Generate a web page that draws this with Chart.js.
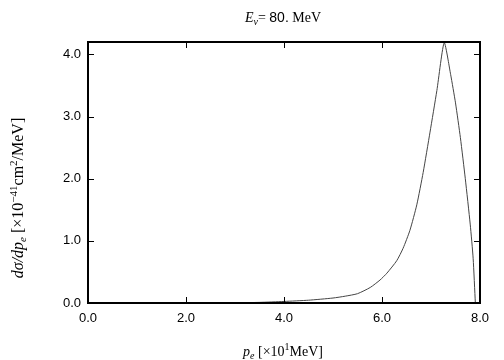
<!DOCTYPE html>
<html>
<head>
<meta charset="utf-8">
<script src="https://cdn.jsdelivr.net/npm/chart.js@4/dist/chart.umd.min.js"></script>
<style>
  html, body { margin: 0; padding: 0; background: #fff; }
  #wrap { width: 504px; height: 360px; }
</style>
</head>
<body>
<div id="wrap"><canvas id="spectrum"></canvas></div>
<script>
// electron momentum spectrum, E_nu = 80 MeV

const momentum = [0, 1.0, 2.0, 3.0, 3.5, 4.0, 4.5, 5.0, 5.25, 5.5, 5.76, 5.96, 6.1, 6.3, 6.43, 6.57,
                  6.71, 6.84, 6.98, 7.12, 7.27, 7.4, 7.5, 7.6, 7.7, 7.8, 7.86, 7.905];
const dsigma = [0, 0, 0, 0.004, 0.01, 0.025, 0.045, 0.08, 0.11, 0.15, 0.25, 0.37, 0.48, 0.68, 0.88, 1.17,
                1.58, 2.1, 2.75, 3.42, 4.19, 3.68, 3.22, 2.66, 2.0, 1.27, 0.72, 0];

const xTicks = [0, 2, 4, 6, 8];
const yTicks = [0, 1, 2, 3, 4];

const serif = '"Liberation Serif", "DejaVu Serif", serif';
const sans = '"Liberation Sans", Arial, sans-serif';

// draws a list of text pieces side by side, centred on (0,0) of the current transform
function richText(ctx, parts) {
    let total = 0;
    parts.forEach(p => { ctx.font = p.font; total += ctx.measureText(p.t).width; });
    let x = -total / 2;
    parts.forEach(p => {
        ctx.font = p.font;
        ctx.fillText(p.t, x, p.dy || 0);
        x += ctx.measureText(p.t).width;
    });
}

const framePlugin = {
    id: 'frame',
    afterDatasetsDraw(chart) {
        const { ctx, chartArea: a, scales } = chart;
        ctx.save();
        ctx.strokeStyle = '#000';
        ctx.lineWidth = 1;
        // inward ticks on all four sides
        ctx.beginPath();
        xTicks.forEach(v => {
            const px = Math.round(scales.x.getPixelForValue(v)) + 0.5;
            ctx.moveTo(px, a.bottom); ctx.lineTo(px, a.bottom - 6);
            ctx.moveTo(px, a.top); ctx.lineTo(px, a.top + 6);
        });
        yTicks.forEach(v => {
            const py = Math.round(scales.y.getPixelForValue(v)) + 0.5;
            ctx.moveTo(a.left, py); ctx.lineTo(a.left + 6, py);
            ctx.moveTo(a.right, py); ctx.lineTo(a.right - 6, py);
        });
        ctx.stroke();
        ctx.lineWidth = 2;
        ctx.strokeRect(a.left, a.top, a.right - a.left, a.bottom - a.top);

        ctx.fillStyle = '#000';
        ctx.textBaseline = 'alphabetic';
        // title
        ctx.save();
        ctx.translate(283, 22);
        richText(ctx, [
            { t: 'E', font: 'italic 14px ' + serif },
            { t: 'ν', font: 'italic 10px ' + serif, dy: 3 },
            { t: '= ', font: '14px ' + serif },
            { t: '80.', font: '14px ' + sans },
            { t: ' MeV', font: '14px ' + serif }
        ]);
        ctx.restore();
        // x title
        ctx.save();
        ctx.translate(283, 356);
        richText(ctx, [
            { t: 'p', font: 'italic 14px ' + serif },
            { t: 'e', font: 'italic 10px ' + serif, dy: 3 },
            { t: ' [×10', font: '14px ' + serif },
            { t: '1', font: '10px ' + serif, dy: -6 },
            { t: 'MeV]', font: '14px ' + serif }
        ]);
        ctx.restore();
        // y title
        ctx.save();
        ctx.translate(23, 198);
        ctx.rotate(-Math.PI / 2);
        richText(ctx, [
            { t: 'dσ/dp', font: 'italic 16px ' + serif },
            { t: 'e', font: 'italic 11px ' + serif, dy: 3 },
            { t: ' [×10', font: '16px ' + serif },
            { t: '−41', font: '11px ' + serif, dy: -6 },
            { t: 'cm', font: '16px ' + serif },
            { t: '2', font: '11px ' + serif, dy: -6 },
            { t: '/MeV]', font: '16px ' + serif }
        ]);
        ctx.restore();
        ctx.restore();
    }
};

const ctx = document.getElementById('spectrum').getContext('2d');

new Chart(ctx, {
    type: 'line',
    data: {
        datasets: [{
            data: momentum.map((m, i) => ({ x: m, y: dsigma[i] })),
            borderColor: '#444',
            borderWidth: 1,
            pointRadius: 0,
            fill: false,
            tension: 0.2
        }]
    },
    options: {
        responsive: true,
        maintainAspectRatio: false,
        animation: false,
        layout: { padding: { top: 42, right: 24, left: 0, bottom: 0 } },
        plugins: {
            legend: { display: false },
            tooltip: { enabled: false }
        },
        scales: {
            x: {
                type: 'linear',
                min: 0,
                max: 8,
                afterBuildTicks: s => { s.ticks = xTicks.map(v => ({ value: v })); },
                afterFit: s => { s.height = 57; },
                grid: { display: false, drawTicks: false },
                border: { display: false },
                ticks: {
                    padding: 8,
                    color: '#000',
                    font: { family: sans, size: 13 },
                    maxRotation: 0,
                    callback: v => v.toFixed(1)
                }
            },
            y: {
                min: 0,
                max: 4.2,
                afterBuildTicks: s => { s.ticks = yTicks.map(v => ({ value: v })); },
                afterFit: s => { s.width = 88; },
                grid: { display: false, drawTicks: false },
                border: { display: false },
                ticks: {
                    padding: 7,
                    color: '#000',
                    font: { family: sans, size: 13 },
                    callback: v => v.toFixed(1)
                }
            }
        }
    },
    plugins: [framePlugin]
});
</script>
</body>
</html>
